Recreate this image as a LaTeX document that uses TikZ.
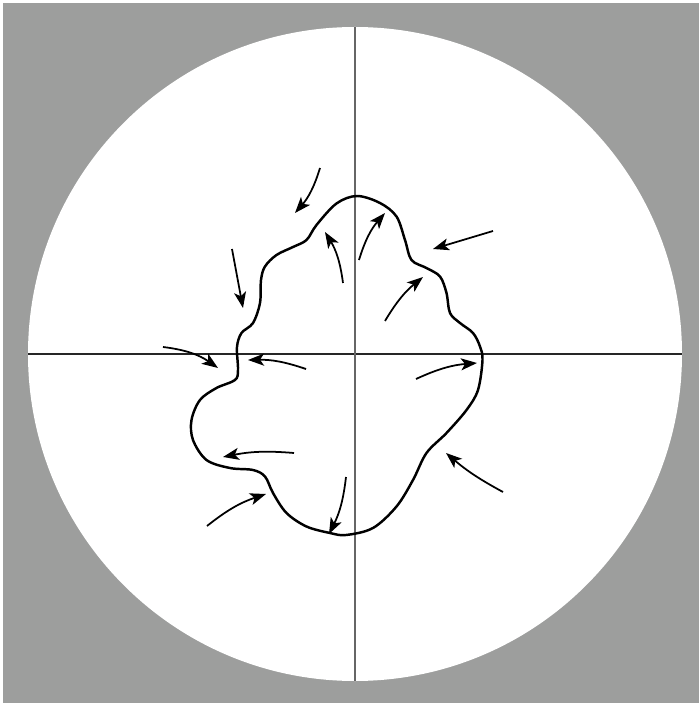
\documentclass[tikz,border=0pt]{standalone}
\usepackage{tikz}
\usetikzlibrary{arrows.meta}
\definecolor{bggray}{RGB}{157,158,157}

\begin{document}
\begin{tikzpicture}[
        axis/.style={line width=0.6pt, black!85},
        outline/.style={line width=1.4pt, black, line join=round},
        flow/.style={line width=1pt, black, -{Stealth[length=3.2mm, width=2.4mm, inset=0.8mm]}}
    ]
    \useasboundingbox (-7.10,-6.98) rectangle (6.88,7.08);

    % background and field
    \fill[bggray] (-7.04,-6.98) rectangle (6.88,7.02);
    \fill[white] (0,0) circle (6.54);

    % axes
    \coordinate (W) at (-6.54,0);
    \coordinate (E) at (6.54,0);
    \coordinate (N) at (0,6.54);
    \coordinate (S) at (0,-6.54);
    \draw[axis] (W) -- (E);
    \draw[axis, black!60] (N) -- (S);

    % the blob
    \draw[outline] plot[smooth cycle, tension=0.55] coordinates {
        (0.04,3.16) (0.50,3.02) (0.83,2.75) (1.00,2.28) (1.13,1.88)
        (1.43,1.72) (1.70,1.55) (1.83,1.22) (1.90,0.82) (2.10,0.62)
        (2.36,0.42) (2.50,0.15) (2.55,-0.12) (2.46,-0.72) (2.23,-1.12)
        (1.83,-1.58) (1.43,-1.98) (1.16,-2.52) (0.83,-3.05) (0.36,-3.48)
        (-0.18,-3.62) (-0.50,-3.58) (-0.97,-3.45) (-1.37,-3.18) (-1.64,-2.78)
        (-1.80,-2.45) (-2.04,-2.32) (-2.50,-2.28) (-2.97,-2.12) (-3.24,-1.72)
        (-3.27,-1.32) (-3.10,-0.92) (-2.77,-0.68) (-2.40,-0.52) (-2.34,-0.32)
        (-2.36,0.14) (-2.27,0.42) (-2.04,0.62) (-1.90,1.02) (-1.88,1.48)
        (-1.80,1.75) (-1.57,1.98) (-1.24,2.14) (-0.97,2.28) (-0.77,2.58)
        (-0.37,3.01)};

    % arrows: tail, head, bend
    \foreach \i/\sx/\sy/\ex/\ey/\b in {
        1/-0.70/3.72/-1.20/2.82/12,
        2/-2.46/2.10/-2.24/0.92/0,
        3/-3.84/0.14/-2.74/-0.28/14,
        4/-0.98/-0.30/-2.14/-0.12/-10,
        5/-0.24/1.42/-0.60/2.44/-12,
        6/0.08/1.88/0.60/2.82/12,
        7/2.76/2.46/1.56/2.10/0,
        8/0.60/0.66/1.36/1.54/10,
        9/1.22/-0.50/2.44/-0.18/10,
        10/2.96/-2.76/1.82/-1.98/6,
        11/-0.18/-2.46/-0.52/-3.60/10,
        12/-1.22/-1.98/-2.64/-2.06/-8,
        13/-2.96/-3.44/-1.78/-2.80/10} {
        \coordinate (t\i) at (\sx,\sy);
        \coordinate (h\i) at (\ex,\ey);
        \draw[flow] (t\i) to[bend left=\b] (h\i);
    }
\end{tikzpicture}
\end{document}
